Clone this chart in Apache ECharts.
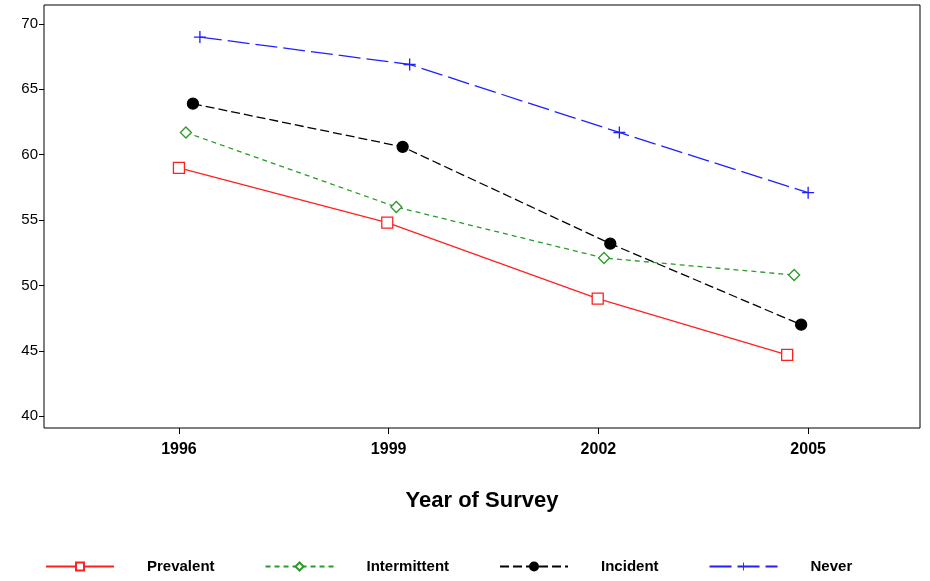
<!DOCTYPE html>
<html><head><meta charset="utf-8">
<script src="https://cdn.jsdelivr.net/npm/echarts@6/dist/echarts.min.js"></script>
<style>html,body{margin:0;background:#fff}#c{width:930px;height:581px}</style>
</head><body><div id="c"></div>
<script>
// survey years (each series is shifted a little on x, as in the original)
var yearTicks = [1996, 1999, 2002, 2005];
var yTicks = [40, 45, 50, 55, 60, 65, 70];
var prevalentX = [1996.0, 1998.98, 2001.99, 2004.7];
var prevalent = [59, 54.8, 49, 44.7];
var intermittentX = [1996.1, 1999.11, 2002.08, 2004.8];
var intermittent = [61.7, 56, 52.1, 50.8];
var incidentX = [1996.2, 1999.2, 2002.17, 2004.9];
var incident = [63.9, 60.6, 53.2, 47];
var neverX = [1996.3, 1999.3, 2002.3, 2005.0];
var never = [69, 66.9, 61.7, 57.1];

function pts(xs, ys){ var r=[]; for(var i=0;i<xs.length;i++) r.push([xs[i], ys[i]]); return r; }
function ser(name, xs, ys, color, symbol, type, dash, size){
    return {
        name:name, type:'line', data:pts(xs,ys), symbol:symbol, symbolSize:size,
        lineStyle:{color:color, width:1.3, type:dash},
        itemStyle:{color:type=='empty'?'#fff':color, borderColor:color, borderWidth:type=='none'?0:1.3},
        color:color
    };
}
var font = 'Liberation Sans';
var chart = echarts.init(document.getElementById('c'));
chart.setOption({
    animation:false,
    grid:{left:44, right:10, top:5, bottom:153, show:true, borderColor:'#000', borderWidth:1},
    xAxis:{
        type:'value', min:1994.07, max:2006.6,
        axisLine:{show:false}, splitLine:{show:false},
        axisTick:{show:true, customValues:yearTicks, length:6, lineStyle:{color:'#000'}},
        axisLabel:{customValues:yearTicks, formatter:function(v){return String(v);}, color:'#000', fontSize:16, fontFamily:font, margin:14, fontWeight:'bold'},
        name:'Year of Survey', nameLocation:'middle', nameGap:62,
        nameTextStyle:{color:'#000', fontSize:22, fontFamily:font, fontWeight:'bold'}
    },
    yAxis:{
        type:'value', min:39.1, max:71.45,
        axisLine:{show:false}, splitLine:{show:false},
        axisTick:{show:true, customValues:yTicks, length:5, lineStyle:{color:'#000'}},
        axisLabel:{customValues:yTicks, color:'#000', fontSize:15, fontFamily:font, margin:6}
    },
    legend:{
        bottom:2, left:40, itemWidth:68, itemHeight:10, itemGap:50,
        textStyle:{color:'#000', fontSize:15, fontFamily:font, fontWeight:'bold', padding:[0,0,0,28]},
        data:['Prevalent','Intermittent','Incident','Never']
    },
    series:[
        ser('Prevalent', prevalentX, prevalent, '#ff2020', 'rect', 'empty', 'solid', 11),
        ser('Intermittent', intermittentX, intermittent, '#2a9a2a', 'diamond', 'empty', [5,4], 11),
        ser('Incident', incidentX, incident, '#000', 'circle', 'fill', [9,4], 11),
        ser('Never', neverX, never, '#2020ff', 'path://M-1.1,-10H1.1V-1.1H10V1.1H1.1V10H-1.1V1.1H-10V-1.1H-1.1Z', 'none', [22,6], 12)
    ]
});
</script></body></html>
